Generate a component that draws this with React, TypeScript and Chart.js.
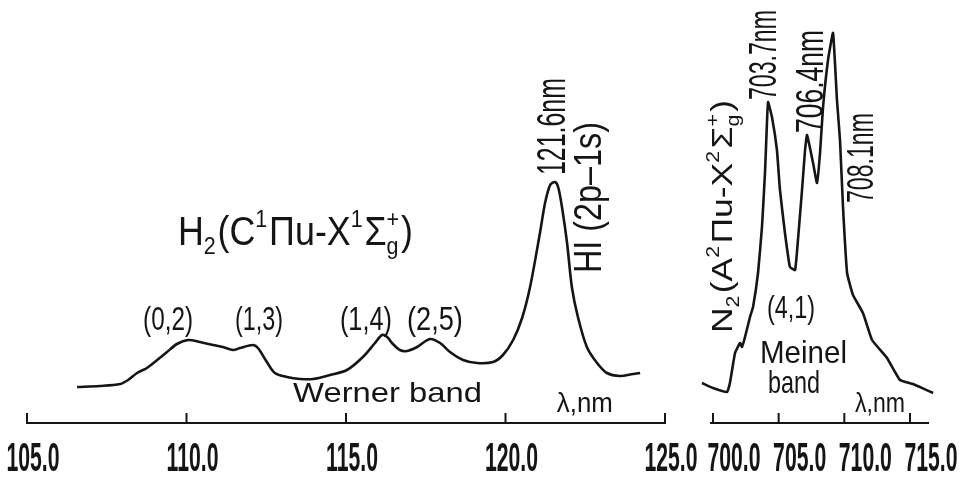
import React, { useEffect, useRef } from 'react';
import { Chart, registerables } from 'chart.js';

Chart.register(...registerables);

// ---- Data (wavelength in nm, intensity in arbitrary units) ----
const h2Wavelength = [106.57, 107.29, 107.92, 108.17, 108.45, 108.76, 109.08, 109.39, 109.7, 110.05, 110.42, 110.83, 111.14, 111.46, 111.68, 112.08, 112.24, 112.52, 112.77, 113.15, 113.56, 113.97, 114.5, 115.03, 115.53, 115.91, 116.13, 116.29, 116.44, 116.69, 116.91, 117.23, 117.63, 117.95, 118.26, 118.67, 119.11, 119.61, 119.92, 120.24, 120.52, 120.77, 121.08, 121.24, 121.4, 121.55, 121.65, 121.77, 121.93, 122.08, 122.27, 122.55, 122.87, 123.18, 123.59, 124.0, 124.22];
const h2Intensity = [36, 37, 39, 43, 50, 55, 63, 71, 79, 83, 81, 78, 76, 73, 75, 78, 75, 61, 50, 46, 44, 44, 48, 53, 66, 80, 88, 86, 80, 73, 72, 76, 84, 80, 71, 63, 60, 61, 68, 83, 105, 136, 190, 220, 238, 241, 236, 216, 180, 136, 106, 76, 60, 50, 47, 49, 50];

const n2Wavelength = [699.16, 700.0, 701.07, 701.29, 701.68, 702.06, 702.21, 702.44, 702.82, 703.05, 703.43, 703.73, 703.96, 704.11, 704.19, 704.49, 704.87, 705.1, 705.48, 705.86, 706.25, 706.47, 706.78, 707.01, 707.16, 707.62, 707.92, 708.15, 708.38, 708.76, 709.14, 709.44, 709.67, 709.9, 710.21, 710.66, 711.42, 712.11, 713.25, 714.24, 715.23, 716.76, 717.9];
const n2Intensity = [40, 35, 31, 40, 70, 80, 76, 86, 106, 116, 150, 196, 250, 300, 321, 306, 273, 233, 190, 156, 153, 183, 233, 273, 288, 260, 240, 270, 316, 363, 390, 323, 283, 216, 150, 128, 110, 83, 65, 43, 39, 30, 25];

const h2Ticks = [105, 110, 115, 120, 125];
const n2Ticks = [700, 705, 710, 715];

const INK = '#151515';
const TEXT_FONT = "'Liberation Sans Narrow', 'Liberation Sans', sans-serif";
const TICK_FONT = "'Liberation Sans', sans-serif";
const TICK_SQUEEZE = 0.53;

type Seg = { t?: string; sup?: string; sub?: string };
type Note = { segs: Seg[]; x: number; y: number; size: number; width: number; rot?: boolean; bold?: boolean };

const h2Notes: Note[] = [
  { segs: [{ t: 'H' }, { sub: '2' }, { t: '(C' }, { sup: '1' }, { t: 'Πu-X' }, { sup: '1' }, { t: 'Σ' }, { sup: '+', sub: 'g' }, { t: ')' }], x: 109.73, y: 178, size: 40, width: 235 },
  { segs: [{ t: '(0,2)' }], x: 108.64, y: 93, size: 34, width: 50 },
  { segs: [{ t: '(1,3)' }], x: 111.52, y: 93, size: 34, width: 48 },
  { segs: [{ t: '(1,4)' }], x: 114.81, y: 93, size: 34, width: 52 },
  { segs: [{ t: '(2,5)' }], x: 116.91, y: 93, size: 34, width: 56 },
  { segs: [{ t: 'Werner band' }], x: 113.34, y: 21, size: 28, width: 189 },
  { segs: [{ t: 'λ,nm' }], x: 121.61, y: 11, size: 28, width: 56 },
  { segs: [{ t: '121.6nm' }], x: 121.87, y: 248, size: 40, width: 97, rot: true },
  { segs: [{ t: 'HI (2p–1s)' }], x: 122.99, y: 150, size: 38, width: 151, rot: true },
];

const n2Notes: Note[] = [
  { segs: [{ t: 'N' }, { sub: '2' }, { t: '(A' }, { sup: '2' }, { t: 'Πu-X' }, { sup: '2' }, { t: 'Σ' }, { sup: '+', sub: 'g' }, { t: ')' }], x: 701.45, y: 90, size: 30, width: 233, rot: true },
  { segs: [{ t: '703.7nm' }], x: 704.8, y: 323, size: 38, width: 90, rot: true },
  { segs: [{ t: '706.4nm' }], x: 708.38, y: 290, size: 38, width: 103, rot: true },
  { segs: [{ t: '708.1nm' }], x: 712.19, y: 220, size: 36, width: 90, rot: true },
  { segs: [{ t: '(4,1)' }], x: 704.11, y: 105, size: 32, width: 48 },
  { segs: [{ t: 'Meinel' }], x: 703.58, y: 60, size: 32, width: 87 },
  { segs: [{ t: 'band' }], x: 704.19, y: 30, size: 32, width: 52 },
  { segs: [{ t: 'λ,nm' }], x: 710.81, y: 11, size: 28, width: 50 },
];

function drawNote(chart: any, note: Note) {
  const ctx: CanvasRenderingContext2D = chart.ctx;
  const xs = chart.scales.x;
  const ys = chart.scales.y;
  const px = xs.getPixelForValue(note.x);
  const py = ys.getPixelForValue(note.y);
  const weight = note.bold ? 'bold ' : '';
  const main = `${weight}${note.size}px ${TEXT_FONT}`;
  const small = `${weight}${Math.round(note.size * 0.6)}px ${TEXT_FONT}`;
  ctx.save();
  ctx.translate(px, py);
  if (note.rot) ctx.rotate(-Math.PI / 2);
  const widths = note.segs.map((s) => {
    if (s.t) {
      ctx.font = main;
      return ctx.measureText(s.t).width;
    }
    ctx.font = small;
    return Math.max(s.sup ? ctx.measureText(s.sup).width : 0, s.sub ? ctx.measureText(s.sub).width : 0) + 2;
  });
  const total = widths.reduce((a, b) => a + b, 0);
  ctx.scale(note.width / total, 1);
  ctx.fillStyle = INK;
  ctx.textAlign = 'left';
  ctx.textBaseline = 'alphabetic';
  let cx = 0;
  note.segs.forEach((s, i) => {
    if (s.t) {
      ctx.font = main;
      ctx.fillText(s.t, cx, 0);
    } else {
      ctx.font = small;
      if (s.sup) ctx.fillText(s.sup, cx, -note.size * 0.45);
      if (s.sub) ctx.fillText(s.sub, cx, note.size * 0.22);
    }
    cx += widths[i];
  });
  ctx.restore();
}

type PanelProps = {
  left: number;
  width: number;
  xs: number[];
  ys: number[];
  min: number;
  max: number;
  ticks: number[];
  labelOffset: number;
  padLeft: number;
  padRight: number;
  tension: number;
  notes: Note[];
};

function SpectrumPanel(p: PanelProps) {
  const ref = useRef<HTMLCanvasElement>(null);
  useEffect(() => {
    const tickMarks = {
      id: 'upTicks',
      afterLayout(chart: any) {
        // draw the library's own tick label items in a condensed face
        const s = chart.scales.x;
        s.drawLabels = function (area: any) {
          const ctx: CanvasRenderingContext2D = this.ctx;
          const items = this.getLabelItems(area);
          for (const item of items) {
            const o = item.options;
            ctx.save();
            ctx.translate(o.translation[0], o.translation[1]);
            ctx.rotate(o.rotation);
            ctx.scale(TICK_SQUEEZE, 1);
            ctx.font = item.font.string;
            ctx.fillStyle = o.color;
            ctx.textAlign = o.textAlign;
            ctx.textBaseline = o.textBaseline;
            const lines = Array.isArray(item.label) ? item.label : [item.label];
            lines.forEach((l: string, j: number) => ctx.fillText(l, 0, item.textOffset + j * item.font.lineHeight));
            ctx.restore();
          }
        };
      },
      afterDraw(chart: any) {
        const s = chart.scales.x;
        const ctx = chart.ctx;
        ctx.save();
        ctx.strokeStyle = INK;
        ctx.lineWidth = 2;
        s.ticks.forEach((t: any) => {
          const x = s.getPixelForValue(t.value);
          ctx.beginPath();
          ctx.moveTo(x, s.top + 1);
          ctx.lineTo(x, s.top - 10);
          ctx.stroke();
        });
        ctx.restore();
      },
    };
    const notesPlugin = {
      id: 'notes',
      afterDraw(chart: any) {
        p.notes.forEach((n) => drawNote(chart, n));
      },
    };
    const chart = new Chart(ref.current!, {
      type: 'line',
      data: {
        datasets: [
          {
            data: p.xs.map((x, i) => ({ x, y: p.ys[i] })),
            borderColor: INK,
            borderWidth: 2.6,
            pointRadius: 0,
            tension: p.tension,
            fill: false,
            clip: false as any,
          },
        ],
      },
      options: {
        responsive: false,
        animation: false,
        events: [],
        layout: { padding: { left: p.padLeft, right: p.padRight, top: 0, bottom: 0 } },
        plugins: { legend: { display: false }, tooltip: { enabled: false } },
        scales: {
          x: {
            type: 'linear',
            min: p.min,
            max: p.max,
            grid: { display: false, drawTicks: false },
            border: { display: true, color: INK, width: 2 },
            afterBuildTicks: (s: any) => {
              s.ticks = p.ticks.map((v) => ({ value: v }));
            },
            afterFit: (s: any) => {
              s.paddingLeft = 0;
              s.paddingRight = 0;
              s.height = 57;
            },
            ticks: {
              padding: 13,
              labelOffset: p.labelOffset,
              color: INK,
              autoSkip: false,
              maxRotation: 0,
              minRotation: 0,
              font: { family: TICK_FONT, size: 40, weight: 'bold' },
              callback: (v: any) => Number(v).toFixed(1),
            },
          },
          y: { display: false, min: 0, max: 423 },
        },
      },
      plugins: [tickMarks, notesPlugin],
    } as any);
    return () => chart.destroy();
  }, []);
  return (
    <canvas
      ref={ref}
      width={p.width}
      height={480}
      style={{ position: 'absolute', left: p.left, top: 0, width: p.width, height: 480 }}
    />
  );
}

export default function App() {
  return (
    <div style={{ position: 'fixed', left: 0, top: 0, width: 959, height: 480, background: '#fff', overflow: 'hidden' }}>
      <SpectrumPanel
        left={0}
        width={700}
        xs={h2Wavelength}
        ys={h2Intensity}
        min={105}
        max={125}
        ticks={h2Ticks}
        labelOffset={6}
        padLeft={27}
        padRight={35}
        tension={0.3}
        notes={h2Notes}
      />
      <SpectrumPanel
        left={690}
        width={269}
        xs={n2Wavelength}
        ys={n2Intensity}
        min={699.85}
        max={716.37}
        ticks={n2Ticks}
        labelOffset={21}
        padLeft={21}
        padRight={31}
        tension={0.12}
        notes={n2Notes}
      />
    </div>
  );
}
